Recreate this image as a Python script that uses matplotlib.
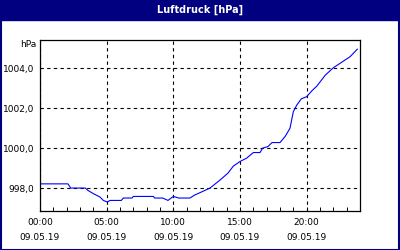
import numpy as np
import matplotlib
matplotlib.use('Agg')
import matplotlib.pyplot as plt
import matplotlib.patches as mpatches
from matplotlib.ticker import MultipleLocator

plt.rcParams["font.family"] = "DejaVu Sans"
plt.rcParams["font.size"] = 6.5

# hours since 00:00 on 09.05.19 and pressure in hPa
hours = [0.0, 2.1, 2.3, 3.4, 3.6, 4.0, 4.5, 4.75, 5.05, 5.25, 6.1, 6.25, 6.9, 7.0,
         8.5, 8.6, 9.2, 9.6, 10.0, 10.4, 11.25, 11.6, 12.1, 12.75, 13.5, 14.1,
         14.5, 15.0, 15.5, 16.0, 16.5, 16.7, 17.1, 17.4, 18.0, 18.4, 18.75, 19.0,
         19.25, 19.6, 20.0, 20.4, 20.75, 21.4, 22.0, 22.5, 23.25, 23.8]
pressure = [998.21, 998.21, 998.0, 998.0, 997.88, 997.72, 997.55, 997.38, 997.3,
            997.38, 997.38, 997.5, 997.5, 997.58, 997.58, 997.5, 997.5, 997.38,
            997.58, 997.5, 997.5, 997.65, 997.8, 998.0, 998.4, 998.75, 999.1,
            999.33, 999.5, 999.78, 999.78, 1000.0, 1000.08, 1000.28, 1000.28,
            1000.6, 1001.0, 1001.83, 1002.15, 1002.47, 1002.58, 1002.88, 1003.1,
            1003.66, 1004.03, 1004.25, 1004.58, 1004.96]

x_ticks = [0, 5, 10, 15, 20]
x_labels = ["00:00\n09.05.19", "05:00\n09.05.19", "10:00\n09.05.19",
            "15:00\n09.05.19", "20:00\n09.05.19"]
y_ticks = [998, 1000, 1002, 1004]
y_labels = ["998,0", "1000,0", "1002,0", "1004,0"]

navy = '#000080'
fig = plt.figure(figsize=(4, 2.5), dpi=100)
fig.patch.set_facecolor('white')

# title bar and frame
fig.patches.append(mpatches.Rectangle((0, 1 - 20/250), 1, 20/250, transform=fig.transFigure,
                                      color=navy, zorder=0))
fig.patches.append(mpatches.Rectangle((0.5/400, 0.5/250), 1 - 1.5/400, 1 - 1/250,
                                      transform=fig.transFigure, fill=False,
                                      edgecolor=navy, lw=1.5, zorder=0))
fig.text(0.5, 1 - 10/250, "Luftdruck [hPa]", color='white', fontweight='bold',
         ha='center', va='center', fontsize=7)

ax = fig.add_axes([40/400, 1 - 211/250, 320/400, 171/250])
ax.plot(hours, pressure, color='#0000ff', lw=0.8)
ax.set_xlim(0, 24)
ax.set_ylim(996.85, 1005.42)

ax.set_xticks(x_ticks)
ax.set_xticklabels(x_labels, linespacing=1.9)
ax.set_yticks(y_ticks)
ax.set_yticklabels(y_labels)
ax.xaxis.set_minor_locator(MultipleLocator(1))
ax.tick_params(axis='x', which='both', direction='in', length=3, width=0.7, pad=5)
ax.tick_params(axis='y', length=0, pad=4)

ax.grid(True, which='major', color='black', linestyle=(0, (3, 3)), lw=0.8)
for s in ax.spines.values():
    s.set_linewidth(0.9)
    s.set_color('black')

fig.text(36/400, 1 - 45/250, "hPa", ha='right', va='center')

plt.savefig('out.png', dpi=100)
